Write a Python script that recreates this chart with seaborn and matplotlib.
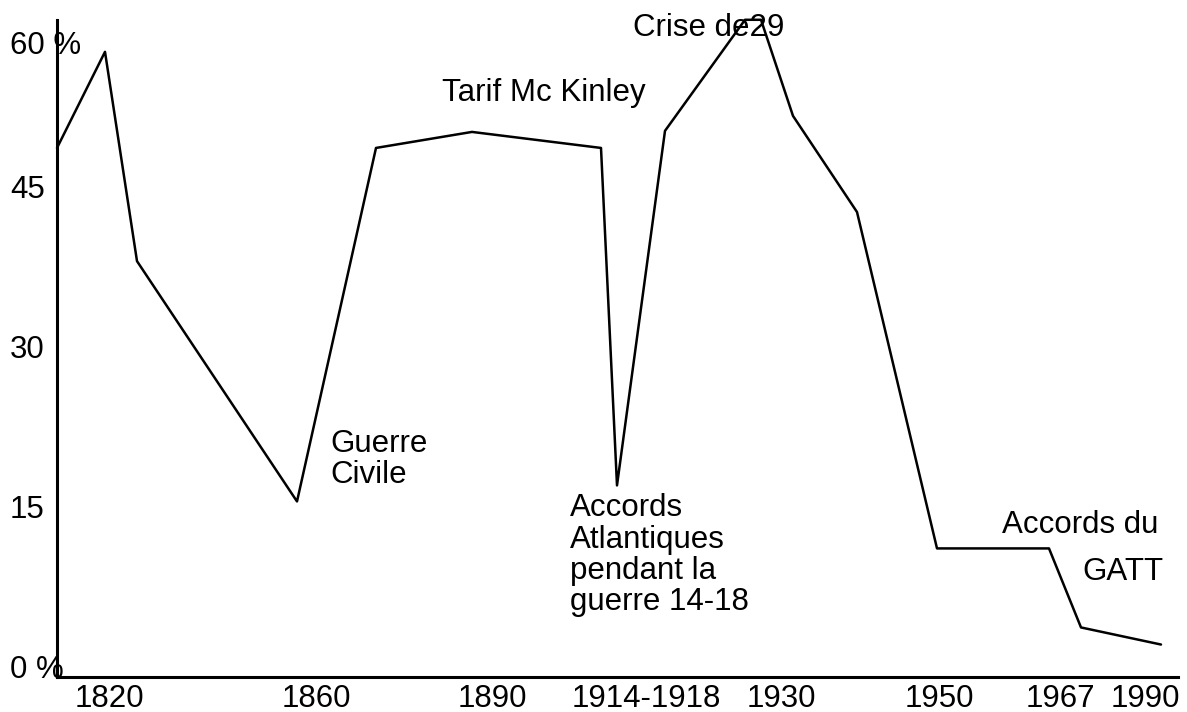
import matplotlib
matplotlib.use("Agg")
import matplotlib.pyplot as plt
import seaborn as sns
import pandas as pd

# --- data (x in abstract position units along the hand-drawn axis, y in %) ---
pos = [0.0, 4.8, 8.0, 24.0, 31.9, 41.5, 54.4, 56.0, 60.8, 68.8, 70.4, 73.6, 80.0, 88.0, 99.2, 102.4, 110.4]
tarif = [48.6, 57.6, 38.0, 15.5, 48.6, 50.1, 48.6, 17.0, 50.2, 60.6, 60.6, 51.6, 42.6, 11.1, 11.1, 3.7, 2.1]

xtick_pos = [5.2, 25.9, 43.5, 58.9, 72.4, 88.2, 100.3, 108.8]
xtick_labels = ["1820", "1860", "1890", "1914-1918", "1930", "1950", "1967", "1990"]
ytick_pos = [0, 15, 30, 45, 58.5]
ytick_labels = ["0 %", "15", "30", "45", "60 %"]

notes = ["Guerre\nCivile", "Accords\nAtlantiques\npendant la\nguerre 14-18",
         "Crise de29", "Tarif Mc Kinley", "Accords du", "GATT"]
note_x = [27.3, 51.3, 57.6, 38.5, 94.5, 102.5]
# baseline of the last line of each note
note_y = [17.23, 5.34, 59.06, 52.97, 12.56, 8.16]

df = pd.DataFrame({"pos": pos, "tarif": tarif})

sns.set_style("white")
plt.rcParams["font.family"] = ["Liberation Sans", "DejaVu Sans"]
plt.rcParams["text.color"] = "black"
plt.rcParams["xtick.color"] = "black"
plt.rcParams["ytick.color"] = "black"
plt.rcParams["axes.labelcolor"] = "black"
FS = 22.5

W, H = 1187, 712
fig = plt.figure(figsize=(W / 100, H / 100), dpi=100)
left, right, top, bottom = 57, 1178, 20, 677
ax = fig.add_axes([left / W, (H - bottom) / H, (right - left) / W, (bottom - top) / H])

sns.lineplot(data=df, x="pos", y="tarif", ax=ax, color="black", linewidth=1.8,
             sort=False, clip_on=False)

ax.set_xlim(0, 112.1)
ax.set_ylim(-0.94, 60.58)
ax.set_xlabel("")
ax.set_ylabel("")

for s in ["top", "right"]:
    ax.spines[s].set_visible(False)
for s in ["left", "bottom"]:
    ax.spines[s].set_linewidth(2.2)
    ax.spines[s].set_color("black")

ax.set_xticks(xtick_pos)
ax.set_xticklabels(xtick_labels, fontsize=FS, color="black")
ax.set_yticks(ytick_pos)
ax.set_yticklabels(ytick_labels, fontsize=FS, color="black")
ax.tick_params(axis="x", length=0, pad=5)
ax.tick_params(axis="y", length=0, pad=34)
for lab in ax.get_yticklabels():
    lab.set_horizontalalignment("left")

for t, x, y in zip(notes, note_x, note_y):
    ax.text(x, y, t, fontsize=FS, ha="left", va="baseline", linespacing=1.05,
            color="black")

fig.savefig("out.png", dpi=100)
